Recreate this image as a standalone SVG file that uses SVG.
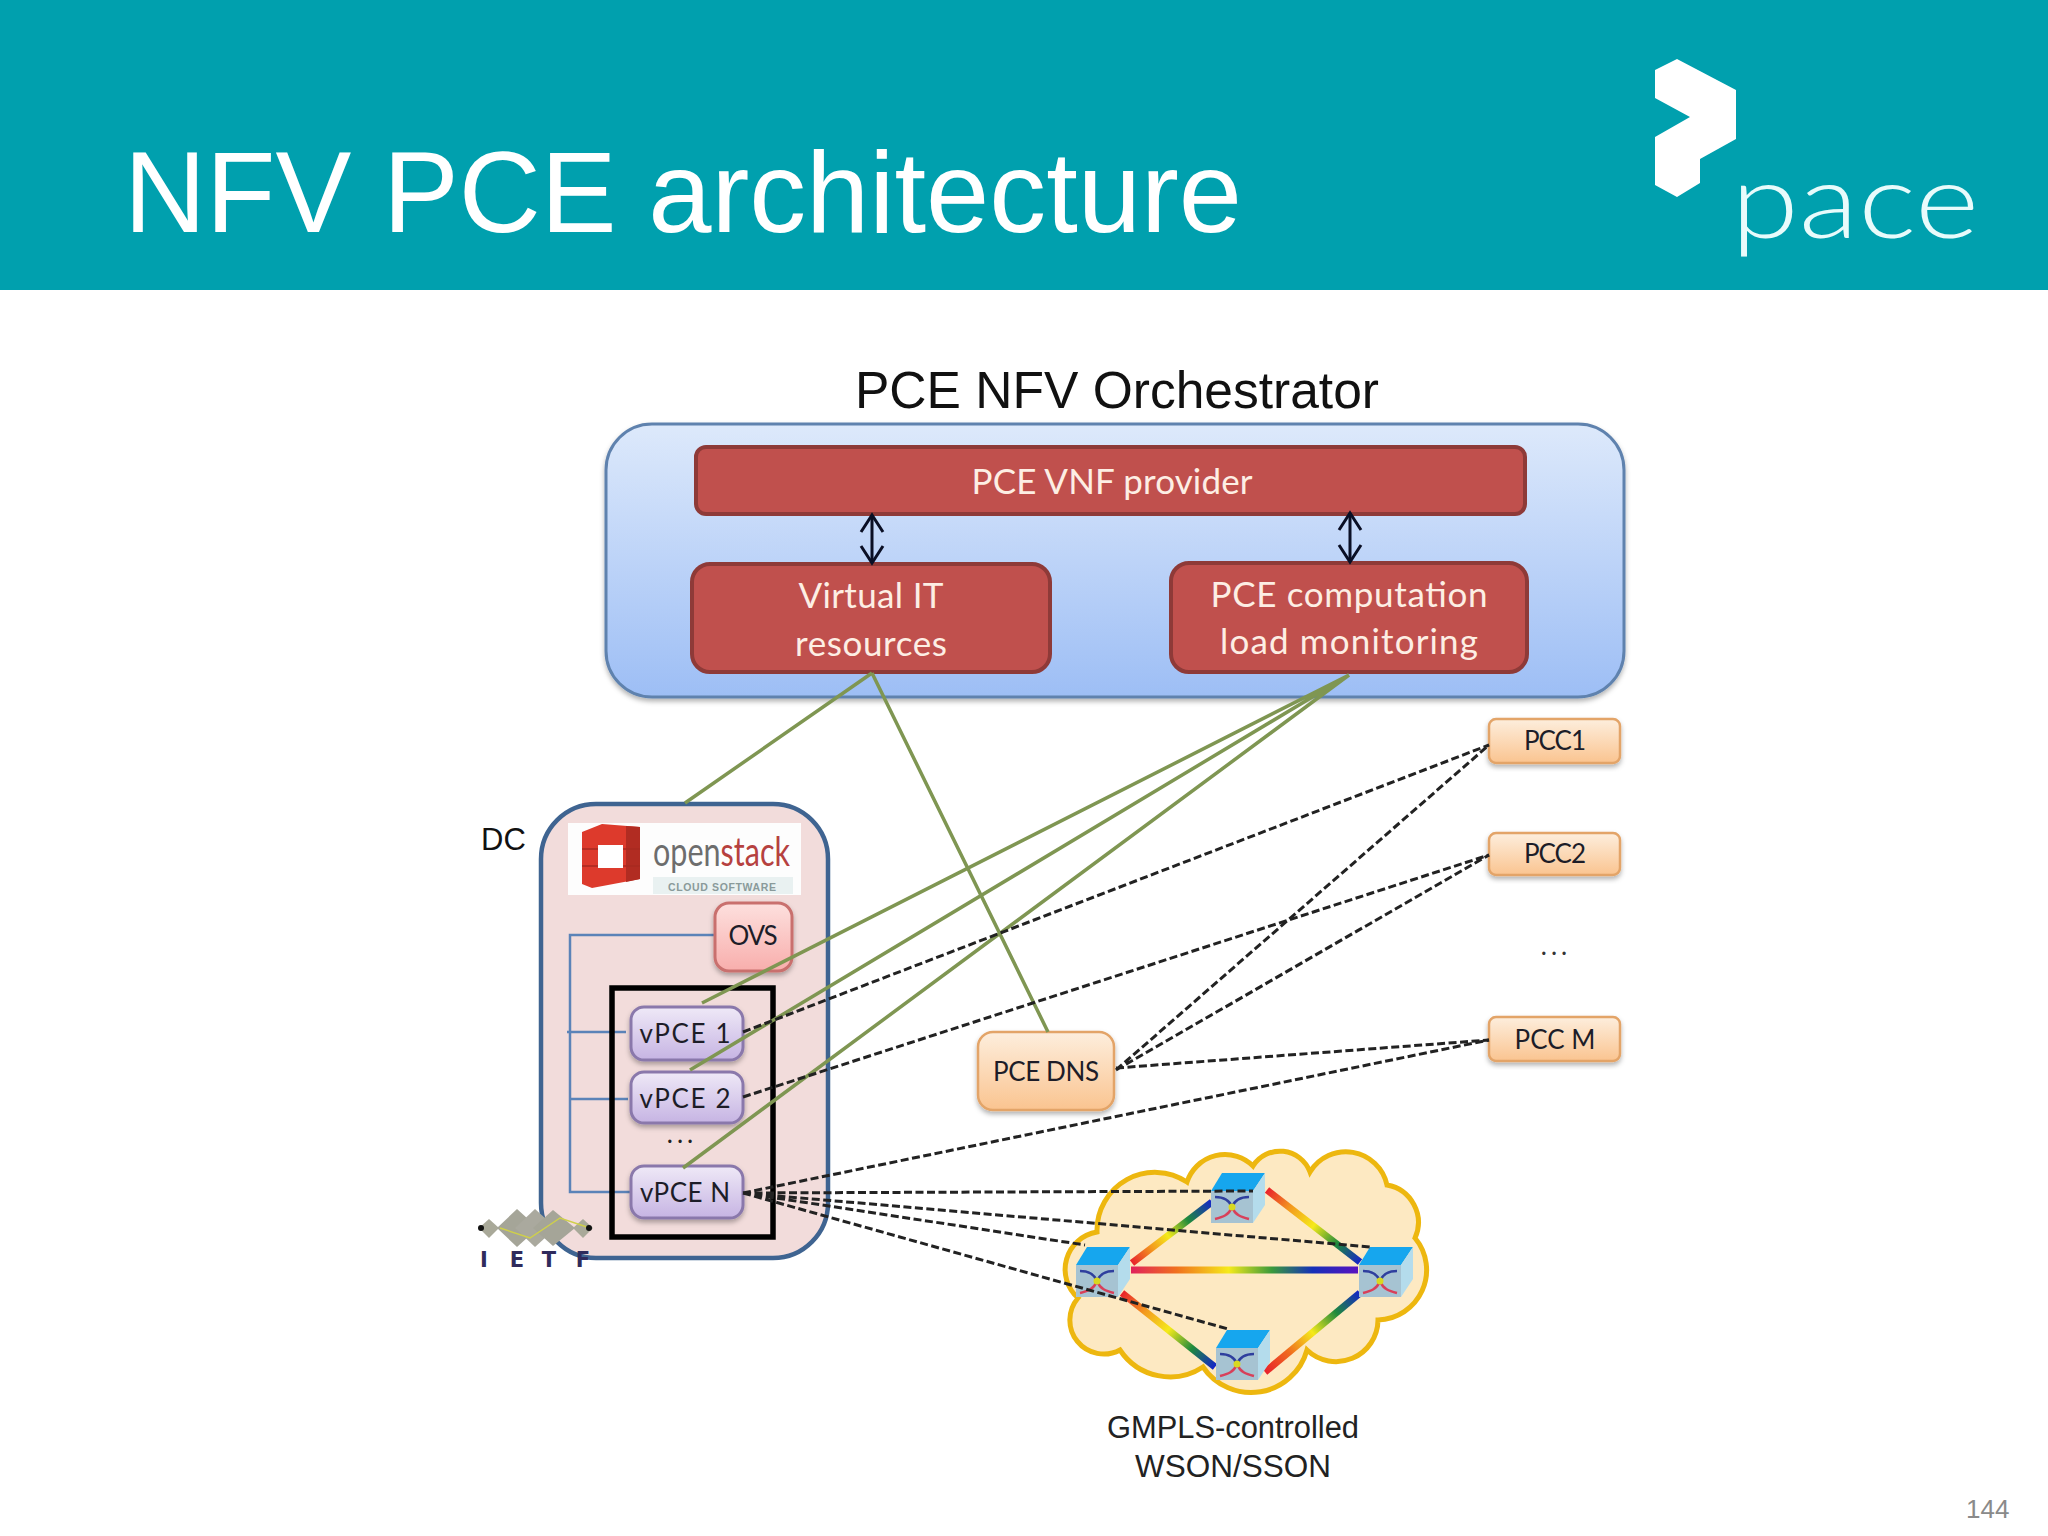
<svg xmlns="http://www.w3.org/2000/svg" xmlns:xlink="http://www.w3.org/1999/xlink" width="2048" height="1536" viewBox="0 0 2048 1536">
<style>
text{font-family:"Liberation Sans",Arial,sans-serif}
.c{font-family:Lato,"Open Sans",sans-serif;text-anchor:middle}
.red{fill:#c0504d;stroke:#8e3a38;stroke-width:4}
.rt{fill:#fdeee4;font-size:35px}
.vp{fill:url(#gV);stroke:#8a78ab;stroke-width:3;filter:url(#sh)}
.pc{fill:url(#gP);stroke:#e3a468;stroke-width:2.5;filter:url(#sh)}
.bt{fill:#1d1d28;font-size:26px}
.g{stroke:#7f9652;stroke-width:3.5;fill:none}
.d{stroke:#222;stroke-width:3;stroke-dasharray:8 3.5;fill:none}
.bl{stroke:#5b83b8;stroke-width:2.5;fill:none}
.ar{stroke:#0a0f25;stroke-width:3;fill:none;marker-start:url(#ah);marker-end:url(#ah)}
.ln{stroke-width:7;fill:none}
.ie{font-size:21px;font-weight:bold;fill:#2f2b5c;text-anchor:middle;font-family:"DejaVu Sans",sans-serif}
.dots{letter-spacing:4px;font-size:26px}
</style>
<defs>
<linearGradient id="gB" x1="0" y1="0" x2="0" y2="1"><stop offset="0" stop-color="#dde9fb"/><stop offset="1" stop-color="#9dbef5"/></linearGradient>
<linearGradient id="gV" x1="0" y1="0" x2="0" y2="1"><stop offset="0" stop-color="#efe9f7"/><stop offset="1" stop-color="#c6b4e3"/></linearGradient>
<linearGradient id="gP" x1="0" y1="0" x2="0" y2="1"><stop offset="0" stop-color="#fdeedd"/><stop offset="1" stop-color="#fac490"/></linearGradient>
<linearGradient id="gO" x1="0" y1="0" x2="0" y2="1"><stop offset="0" stop-color="#fde0de"/><stop offset="1" stop-color="#f8aeac"/></linearGradient>
<linearGradient id="r1" gradientUnits="userSpaceOnUse" x1="1132" y1="1263" x2="1212" y2="1202"><stop offset="0" stop-color="#e8212c"/><stop offset=".25" stop-color="#f39a1e"/><stop offset=".45" stop-color="#f5ea1a"/><stop offset=".7" stop-color="#1f8a3c"/><stop offset="1" stop-color="#1525c8"/></linearGradient>
<linearGradient id="r2" gradientUnits="userSpaceOnUse" x1="1267" y1="1190" x2="1360" y2="1262"><stop offset="0" stop-color="#e8212c"/><stop offset=".25" stop-color="#f39a1e"/><stop offset=".5" stop-color="#f5ea1a"/><stop offset=".75" stop-color="#1f8a3c"/><stop offset="1" stop-color="#1525c8"/></linearGradient>
<linearGradient id="r3" gradientUnits="userSpaceOnUse" x1="1131" y1="1270" x2="1358" y2="1270"><stop offset="0" stop-color="#e0215c"/><stop offset=".2" stop-color="#f0701e"/><stop offset=".43" stop-color="#f5ea1a"/><stop offset=".62" stop-color="#3a9a3c"/><stop offset=".8" stop-color="#1530b8"/><stop offset="1" stop-color="#5a12c0"/></linearGradient>
<linearGradient id="r4" gradientUnits="userSpaceOnUse" x1="1122" y1="1293" x2="1215" y2="1367"><stop offset="0" stop-color="#e8212c"/><stop offset=".25" stop-color="#f39a1e"/><stop offset=".5" stop-color="#f5ea1a"/><stop offset=".75" stop-color="#1f8a3c"/><stop offset="1" stop-color="#1525c8"/></linearGradient>
<linearGradient id="r5" gradientUnits="userSpaceOnUse" x1="1265" y1="1372" x2="1360" y2="1293"><stop offset="0" stop-color="#e8212c"/><stop offset=".25" stop-color="#f06a1e"/><stop offset=".5" stop-color="#f5ea1a"/><stop offset=".75" stop-color="#1f8a3c"/><stop offset="1" stop-color="#1525c8"/></linearGradient>
<filter id="sh" x="-15%" y="-15%" width="130%" height="135%"><feDropShadow dx="0" dy="3" stdDeviation="2.5" flood-color="#000" flood-opacity=".3"/></filter>
<marker id="ah" markerUnits="userSpaceOnUse" viewBox="-20 -14 24 28" refX="0" refY="0" markerWidth="24" markerHeight="28" orient="auto-start-reverse"><path d="M-17 -11L0 0L-17 11" fill="none" stroke="#0a0f25" stroke-width="3"/></marker>
<g id="cube">
<path d="M0 0H42L54 -18H11Z" fill="#16a6ee"/>
<path d="M42 0L54 -18V14L42 32Z" fill="#b4dcec"/>
<rect x="0" y="0" width="42" height="32" fill="#a6c3d2"/>
<path d="M21 16C18 8 12 6 4 6M21 16C24 8 30 6 38 6" fill="none" stroke="#2f3f9e" stroke-width="2.5"/>
<path d="M21 16C18 24 12 26 4 28M21 16C24 24 30 26 38 28" fill="none" stroke="#d8405a" stroke-width="2.5"/>
<circle cx="21" cy="16" r="3.5" fill="#d8d820"/>
</g>
</defs>
<rect width="2048" height="1536" fill="#fff"/>
<g id="header">
<rect width="2048" height="290" fill="#00a0ae"/>
<text x="124" y="232" font-size="115" fill="#fff" textLength="1118" lengthAdjust="spacingAndGlyphs">NFV PCE architecture</text>
<path d="M1655 70L1677 59L1736 90V139L1700 159V183L1677 197L1655 185V137L1690 117L1655 98Z" fill="#fff"/>
<text x="1731" y="238" font-size="105" font-weight="300" fill="#e8fbfb" style="font-family:Lato,'Open Sans',sans-serif" textLength="248" lengthAdjust="spacingAndGlyphs">pace</text>
</g>
<text x="1117" y="408" font-size="52" fill="#111" text-anchor="middle" textLength="524" lengthAdjust="spacingAndGlyphs">PCE NFV Orchestrator</text>
<g id="orchestrator">
<rect x="606" y="424" width="1018" height="273" rx="46" fill="url(#gB)" stroke="#5f82ae" stroke-width="3" filter="url(#sh)"/>
</g>
<g id="vnf-provider">
<rect class="red" x="696" y="447" width="829" height="67" rx="10"/>
<text class="c rt" x="1112" y="494" textLength="281">PCE VNF provider</text>
</g>
<g id="virtual-it">
<rect class="red" x="692" y="564" width="358" height="108" rx="18"/>
<text class="c rt" x="871" y="608" textLength="145">Virtual IT</text>
<text class="c rt" x="871" y="656" textLength="152">resources</text>
</g>
<g id="load-monitoring">
<rect class="red" x="1171" y="563" width="356" height="109" rx="18"/>
<text class="c rt" x="1349" y="607" textLength="277">PCE computation</text>
<text class="c rt" x="1349" y="654" textLength="258">load monitoring</text>
</g>
<g id="dc">
<rect x="541" y="804" width="287" height="454" rx="55" fill="#f2dcdb" stroke="#3f6491" stroke-width="4.5"/>
<text x="481" y="850" font-size="31" fill="#111">DC</text>
<rect x="568" y="823" width="233" height="72" fill="#fdfdfd"/>
<rect x="653" y="877" width="140" height="17" fill="#e9f1f1"/>
<path d="M582 832L602 824L640 827V879L592 888L582 884Z" fill="#dd3a2c"/>
<path d="M626 826L640 827V879L626 882Z" fill="#b12c22"/>
<path d="M582 849H598M582 866H598M623 849H640M623 866H640" stroke="#a82a20" stroke-width="1.5" fill="none"/>
<rect x="598" y="845" width="25" height="23" fill="#fff"/>
<text x="653" y="866" font-size="40" fill="#6d6d6d" style="font-family:Lato,sans-serif" textLength="137" lengthAdjust="spacingAndGlyphs">open<tspan fill="#b6413f">stack</tspan></text>
<text x="668" y="891" font-size="10.5" font-weight="bold" fill="#8a9a9a" textLength="108">CLOUD SOFTWARE</text>
<path class="bl" d="M714 935H570V1192H632M567 1032H626M570 1099H628"/>
<rect x="612" y="988" width="161" height="249" fill="none" stroke="#000" stroke-width="5.5"/>
<text class="c dots" x="682" y="1143" fill="#222">...</text>
</g>
<g id="ovs">
<rect x="715" y="903" width="77" height="68" rx="14" fill="url(#gO)" stroke="#c9706e" stroke-width="3" filter="url(#sh)"/>
<text class="c bt" x="753" y="945" textLength="49">OVS</text>
</g>
<g id="vpce1"><rect class="vp" x="631" y="1007" width="112" height="53" rx="13"/><text class="c bt" x="685" y="1043" textLength="91">vPCE 1</text></g>
<g id="vpce2"><rect class="vp" x="631" y="1072" width="112" height="51" rx="13"/><text class="c bt" x="685" y="1108" textLength="91">vPCE 2</text></g>
<g id="vpcen"><rect class="vp" x="631" y="1166" width="112" height="52" rx="13"/><text class="c bt" x="685" y="1202" textLength="90">vPCE N</text></g>
<g id="ietf">
<path d="M489 1219L499 1228L489 1238L479 1228Z" fill="#a9a999"/>
<path d="M517 1209L538 1228L517 1247L497 1228Z" fill="#a5a598"/>
<path d="M535 1209L556 1228L535 1247L515 1228Z" fill="#aaa99e"/>
<path d="M553 1210L575 1228L553 1246L533 1228Z" fill="#a5a598"/>
<path d="M583 1219L593 1228L583 1238L573 1228Z" fill="#a9a999"/>
<path d="M500 1228L530 1238L560 1218L590 1228" fill="none" stroke="#cfd04a" stroke-width="1.5"/>
<circle cx="481" cy="1228" r="3" fill="#111"/><circle cx="589" cy="1228" r="3" fill="#111"/>
<text class="ie" x="484" y="1267">I</text><text class="ie" x="517" y="1267">E</text><text class="ie" x="549" y="1267">T</text><text class="ie" x="583" y="1267">F</text>
</g>
<g id="pce-dns">
<rect class="pc" x="978" y="1032" width="136" height="78" rx="15"/>
<text class="c bt" x="1046" y="1081" textLength="106">PCE DNS</text>
</g>
<g id="pcc1"><rect class="pc" x="1489" y="719" width="131" height="44" rx="7"/><text class="c bt" x="1555" y="750" textLength="62">PCC1</text></g>
<g id="pcc2"><rect class="pc" x="1489" y="833" width="131" height="42" rx="7"/><text class="c bt" x="1555" y="863" textLength="62">PCC2</text></g>
<text class="c dots" x="1556" y="955" fill="#333">...</text>
<g id="pccm"><rect class="pc" x="1489" y="1017" width="131" height="44" rx="7"/><text class="c bt" x="1555" y="1049" textLength="81">PCC M</text></g>
<g id="network">
<path d="M1097 1232A58 58 0 0 1 1187 1182A40 40 0 0 1 1253 1166A32 32 0 0 1 1310 1172A42 42 0 0 1 1387 1185A38 38 0 0 1 1415 1238A50 50 0 0 1 1378 1320A42 42 0 0 1 1307 1350A58 58 0 0 1 1203 1367A60 60 0 0 1 1120 1350A34 34 0 0 1 1078 1298A38 38 0 0 1 1097 1232Z" fill="#fde9c2" stroke="#edb70f" stroke-width="5"/>
<path class="ln" stroke="url(#r1)" d="M1132 1263L1212 1202"/>
<path class="ln" stroke="url(#r2)" d="M1267 1190L1360 1262"/>
<path class="ln" stroke="url(#r3)" d="M1131 1270H1358"/>
<path class="ln" stroke="url(#r4)" d="M1122 1293L1215 1367"/>
<path class="ln" stroke="url(#r5)" d="M1265 1372L1360 1293"/>
<use href="#cube" x="1076" y="1265"/>
<use href="#cube" x="1211" y="1191"/>
<use href="#cube" x="1359" y="1265"/>
<use href="#cube" x="1216" y="1348"/>
<text x="1233" y="1438" font-size="31" fill="#222" text-anchor="middle" textLength="252" lengthAdjust="spacingAndGlyphs">GMPLS-controlled</text>
<text x="1233" y="1477" font-size="31" fill="#222" text-anchor="middle" textLength="196" lengthAdjust="spacingAndGlyphs">WSON/SSON</text>
</g>
<g id="connectors">
<path class="ar" d="M872 515V563"/>
<path class="ar" d="M1350 513V562"/>
<path class="g" d="M872 673L685 803M872 673L1048 1032"/>
<path class="g" d="M1349 675L702 1003M1349 675L690 1070M1349 675L683 1168"/>
<path class="d" d="M743 1032L1489 745M743 1097L1489 855M743 1193L1489 1040"/>
<path class="d" d="M1116 1070L1489 745M1116 1070L1489 855M1116 1068L1489 1040"/>
<path class="d" d="M743 1193L1253 1191M743 1193L1370 1247M743 1193L1085 1245M743 1193L1228 1329"/>
</g>
<text x="1966" y="1518" font-size="26" fill="#8a8a8a">144</text>
</svg>
